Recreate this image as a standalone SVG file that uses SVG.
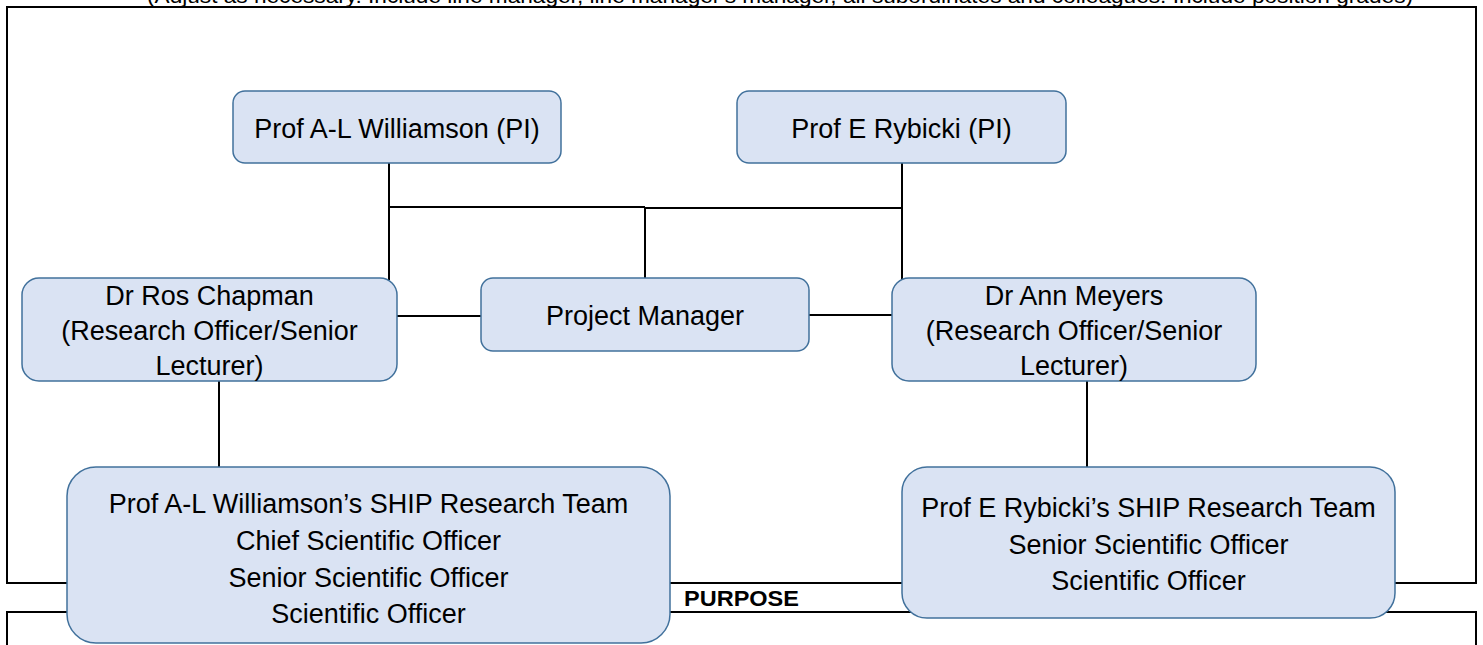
<svg xmlns="http://www.w3.org/2000/svg" width="1483" height="645" viewBox="0 0 1483 645">
<style>
.frame{fill:none;stroke:#000;stroke-width:2}
.box{fill:#dae3f3;stroke:#41719c;stroke-width:1.5}
.t{font-family:"Liberation Sans",Arial,sans-serif;font-size:27px;fill:#000;text-anchor:middle}
.hdr{font-family:"Liberation Sans",Arial,sans-serif;font-size:20px;fill:#000}
.lbl{font-family:"Liberation Sans",Arial,sans-serif;font-size:22px;font-weight:bold;fill:#000}
.c{fill:none;stroke:#000;stroke-width:2}
</style>
<rect width="1483" height="645" fill="#fff"/>
<text class="hdr" x="147" y="3" textLength="1266" lengthAdjust="spacingAndGlyphs">(Adjust as necessary. Include line manager, line manager's manager, all subordinates and colleagues. Include position grades)</text>
<g id="frames">
<rect class="frame" x="7" y="7" width="1469" height="576"/>
<path class="frame" d="M7,660 V612 H1476 V660"/>
<text class="lbl" x="684" y="606" textLength="115" lengthAdjust="spacingAndGlyphs">PURPOSE</text>
</g>
<g id="connectors">
<path class="c" d="M389,163 V280"/>
<path class="c" d="M902,163 V280"/>
<path class="c" d="M389,207 H645"/>
<path class="c" d="M645,208 H902"/>
<path class="c" d="M645,207 V278"/>
<path class="c" d="M397,316 H481"/>
<path class="c" d="M809,315 H892"/>
<path class="c" d="M219,381 V467"/>
<path class="c" d="M1087,381 V467"/>
</g>
<g id="pi-williamson">
<rect class="box" x="233" y="91" width="328" height="72" rx="12"/>
<text class="t" x="397" y="138">Prof A-L Williamson (PI)</text>
</g>
<g id="pi-rybicki">
<rect class="box" x="737" y="91" width="329" height="72" rx="12"/>
<text class="t" x="901.5" y="138">Prof E Rybicki (PI)</text>
</g>
<g id="chapman">
<rect class="box" x="22" y="278" width="375" height="103" rx="17"/>
<text class="t" x="209.5" y="305">Dr Ros Chapman</text>
<text class="t" x="209.5" y="340">(Research Officer/Senior</text>
<text class="t" x="209.5" y="375">Lecturer)</text>
</g>
<g id="project-manager">
<rect class="box" x="481" y="278" width="328" height="73" rx="12"/>
<text class="t" x="645" y="325">Project Manager</text>
</g>
<g id="meyers">
<rect class="box" x="892" y="278" width="364" height="103" rx="17"/>
<text class="t" x="1074" y="305">Dr Ann Meyers</text>
<text class="t" x="1074" y="340">(Research Officer/Senior</text>
<text class="t" x="1074" y="375">Lecturer)</text>
</g>
<g id="team-williamson">
<rect class="box" x="67" y="467" width="603" height="176" rx="29"/>
<text class="t" x="368.5" y="513">Prof A-L Williamson’s SHIP Research Team</text>
<text class="t" x="368.5" y="550">Chief Scientific Officer</text>
<text class="t" x="368.5" y="587">Senior Scientific Officer</text>
<text class="t" x="368.5" y="623">Scientific Officer</text>
</g>
<g id="team-rybicki">
<rect class="box" x="902" y="467" width="493" height="151" rx="25"/>
<text class="t" x="1148.5" y="517">Prof E Rybicki’s SHIP Research Team</text>
<text class="t" x="1148.5" y="554">Senior Scientific Officer</text>
<text class="t" x="1148.5" y="590">Scientific Officer</text>
</g>
</svg>
